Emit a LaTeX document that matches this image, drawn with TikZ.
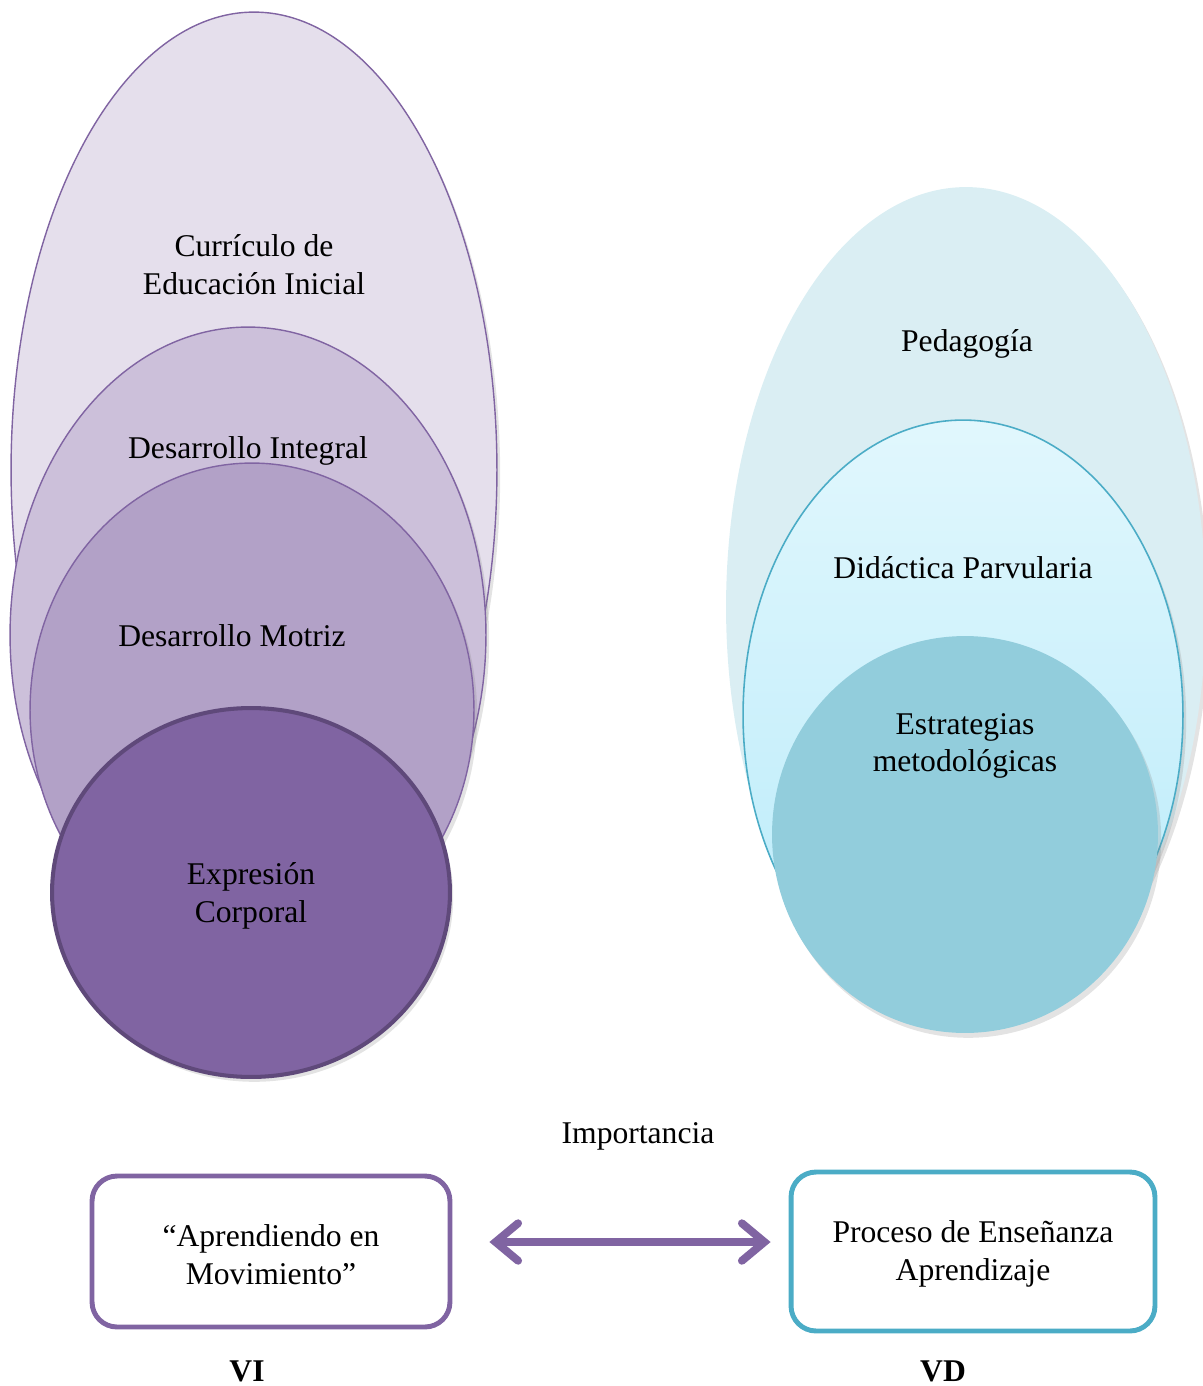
\documentclass[tikz,border=0pt]{standalone}
\usepackage{fontspec}
\setmainfont{Liberation Serif}
\usepackage{tikz}
\usetikzlibrary{arrows.meta,positioning,shadows,shapes.geometric}

\definecolor{lilaA}{HTML}{E5DFEC}
\definecolor{lilaB}{HTML}{CCC0DA}
\definecolor{lilaC}{HTML}{B2A1C7}
\definecolor{lilaD}{HTML}{8064A2}
\definecolor{lilaE}{HTML}{5F497A}
\definecolor{azulA}{HTML}{DAEEF3}
\definecolor{azulB}{HTML}{4BACC6}
\definecolor{azulC}{HTML}{92CDDC}
\definecolor{celesteT}{HTML}{E1F7FD}
\definecolor{celesteB}{HTML}{B9EBFA}

\begin{document}
\begin{tikzpicture}
[x=0.02cm, y=-0.02cm,
every node/.style={font=\fontsize{18}{21.5}\selectfont, align=center},
oval/.style={ellipse, inner sep=0pt},
sombra/.style={drop shadow={shadow xshift=0.4ex, shadow yshift=-0.6ex, opacity=0.22}},
lila/.style={oval, draw=lilaD, line width=0.8pt, sombra},
azul/.style={oval, sombra},
caja/.style={draw, rounded corners=0.5cm, line width=2.8pt, fill=white},
twoway/.style={{Straight Barb[length=0.45cm, width=0.75cm, line cap=round]}-{Straight Barb[length=0.45cm, width=0.75cm, line cap=round]},
  draw=lilaD, line width=4.5pt, line cap=round}
]
  \useasboundingbox (0,0) rectangle (1203,1386);
  \clip (0,0) rectangle (1203,1386);

  % variable independiente
  \node[lila, fill=lilaA, minimum width=9.72cm, minimum height=18.32cm] (curr) at (254,470) {};
  \node[lila, fill=lilaB, minimum width=9.52cm, minimum height=12.32cm] (integ) at (248,635) {};
  \node[lila, fill=lilaC, minimum width=8.88cm, minimum height=9.88cm] (motriz) at (252,710) {};
  \node[oval, draw=lilaE, line width=2.3pt, fill=lilaD, sombra, minimum width=7.96cm, minimum height=7.38cm] (expr) at (251,892.5) {};

  \node (tcurr) at (254,265) {Currículo de\\Educación Inicial};
  \node (tinteg) at (248,451) {Desarrollo Integral};
  \node (tmotriz) at (232,636) {Desarrollo Motriz};
  \node (texpr) at (251,896) {Expresión\\Corporal};

  % variable dependiente
  \node[azul, fill=azulA, minimum width=9.6cm, minimum height=16.8cm] (ped) at (966,607) {};
  \node[azul, draw=azulB, line width=0.9pt, top color=celesteT, bottom color=celesteB, minimum width=8.8cm, minimum height=11.8cm] (didac) at (963,715) {};
  \node[azul, fill=azulC, minimum width=7.72cm, minimum height=7.94cm] (estr) at (965,834.5) {};

  \node (tped) at (967,344) {Pedagogía};
  \node (tdidac) at (963,568) {Didáctica Parvularia};
  \node (testr) at (965,746) {Estrategias\\metodológicas};

  % relacion
  \node (imp) at (638,1136) {Importancia};
  \node[caja, draw=lilaD, minimum width=7.16cm, minimum height=3.02cm] (vi) at (271,1251.5) {};
  \node (tvi) at (271,1255) {“Aprendiendo en\\Movimiento”};
  \node[caja, draw=azulB, minimum width=7.28cm, minimum height=3.18cm] (vd) at (973,1251.5) {};
  \node (tvd) at (973,1254) {Proceso de Enseñanza\\Aprendizaje};
  \draw[twoway] ([xshift=0.74cm, yshift=0.19cm]vi.east) -- ([xshift=-0.36cm, yshift=0.19cm]vd.west);

  \node[font=\fontsize{18}{21}\selectfont\bfseries] (lvi) at (247,1371) {VI};
  \node[font=\fontsize{18}{21}\selectfont\bfseries] (lvd) at (943,1371) {VD};
\end{tikzpicture}
\end{document}
